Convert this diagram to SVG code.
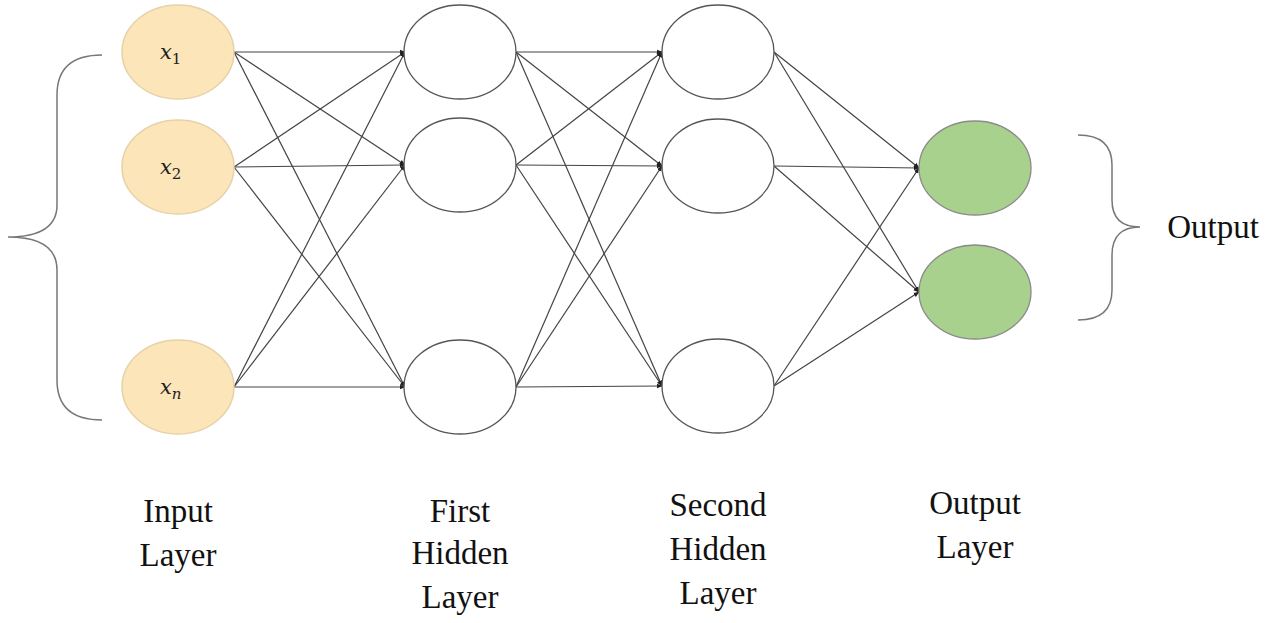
<svg xmlns="http://www.w3.org/2000/svg" width="1280" height="623" viewBox="0 0 1280 623">
<defs>
<style>
.in{fill:#fbe5b9;stroke:#e6d2a8;stroke-width:1.5}
.h{fill:#fff;stroke:#555;stroke-width:1.3}
.o{fill:#a9d18e;stroke:#8a8a8a;stroke-width:1.3}
.c line{stroke:#444;stroke-width:1.2;marker-end:url(#a)}
.t{font-family:'Liberation Serif','Times New Roman','DejaVu Serif',serif;font-size:33px;fill:#111;text-anchor:middle}
.m{font-family:'DejaVu Serif','Liberation Serif',serif;font-style:italic;font-size:21px;fill:#222}
.b{fill:none;stroke:#777;stroke-width:1.5}
</style>
<marker id="a" viewBox="0 0 10 10" refX="9" refY="5" markerWidth="5" markerHeight="5" orient="auto"><path d="M0,1L10,5L0,9z" fill="#222"/></marker>
</defs>
<g class="c" id="connectors">
<line x1="234" y1="52" x2="405" y2="52"/><line x1="234" y1="52" x2="405" y2="165"/><line x1="234" y1="52" x2="405" y2="387"/>
<line x1="234" y1="167" x2="405" y2="52"/><line x1="234" y1="167" x2="405" y2="165"/><line x1="234" y1="167" x2="405" y2="387"/>
<line x1="234" y1="387" x2="405" y2="52"/><line x1="234" y1="387" x2="405" y2="165"/><line x1="234" y1="387" x2="405" y2="387"/>
<line x1="516" y1="52" x2="662" y2="52"/><line x1="516" y1="52" x2="662" y2="166"/><line x1="516" y1="52" x2="662" y2="386"/>
<line x1="516" y1="165" x2="662" y2="52"/><line x1="516" y1="165" x2="662" y2="166"/><line x1="516" y1="165" x2="662" y2="386"/>
<line x1="516" y1="387" x2="662" y2="52"/><line x1="516" y1="387" x2="662" y2="166"/><line x1="516" y1="387" x2="662" y2="386"/>
<line x1="774" y1="52" x2="919" y2="168"/><line x1="774" y1="52" x2="919" y2="292"/>
<line x1="774" y1="166" x2="919" y2="168"/><line x1="774" y1="166" x2="919" y2="292"/>
<line x1="774" y1="386" x2="919" y2="168"/><line x1="774" y1="386" x2="919" y2="292"/>
</g>
<g id="input-layer">
<g id="x1"><ellipse class="in" cx="178" cy="52" rx="56" ry="47"/><text class="m" x="160" y="59">x<tspan font-size="15" dy="5" font-style="normal">1</tspan></text></g>
<g id="x2"><ellipse class="in" cx="178" cy="167" rx="56" ry="47"/><text class="m" x="160" y="174">x<tspan font-size="15" dy="5" font-style="normal">2</tspan></text></g>
<g id="xn"><ellipse class="in" cx="178" cy="387" rx="56" ry="47"/><text class="m" x="160" y="394">x<tspan font-size="15" dy="5">n</tspan></text></g>
</g>
<g id="hidden1">
<ellipse class="h" cx="460" cy="52" rx="56" ry="47"/><ellipse class="h" cx="460" cy="165" rx="56" ry="47"/><ellipse class="h" cx="460" cy="387" rx="56" ry="47"/>
</g>
<g id="hidden2">
<ellipse class="h" cx="718" cy="52" rx="56" ry="47"/><ellipse class="h" cx="718" cy="166" rx="56" ry="47"/><ellipse class="h" cx="718" cy="386" rx="56" ry="47"/>
</g>
<g id="output-layer">
<ellipse class="o" cx="975" cy="168" rx="56" ry="47"/><ellipse class="o" cx="975" cy="292" rx="56" ry="47"/>
</g>
<g id="braces">
<path class="b" d="M102,55 Q57,55 57,95 L57,205 Q57,237 8,237 Q57,237 57,270 L57,380 Q57,420 102,420"/>
<path class="b" d="M1078,135 Q1112,135 1112,165 L1112,200 Q1112,227 1140,227 Q1112,227 1112,255 L1112,290 Q1112,320 1078,320"/>
</g>
<g id="labels">
<text class="t" x="1213" y="238">Output</text>
<text class="t" x="178" y="522">Input</text><text class="t" x="178" y="566">Layer</text>
<text class="t" x="460" y="522">First</text><text class="t" x="460" y="564">Hidden</text><text class="t" x="460" y="608">Layer</text>
<text class="t" x="718" y="516">Second</text><text class="t" x="718" y="560">Hidden</text><text class="t" x="718" y="604">Layer</text>
<text class="t" x="975" y="514">Output</text><text class="t" x="975" y="558">Layer</text>
</g>
</svg>
